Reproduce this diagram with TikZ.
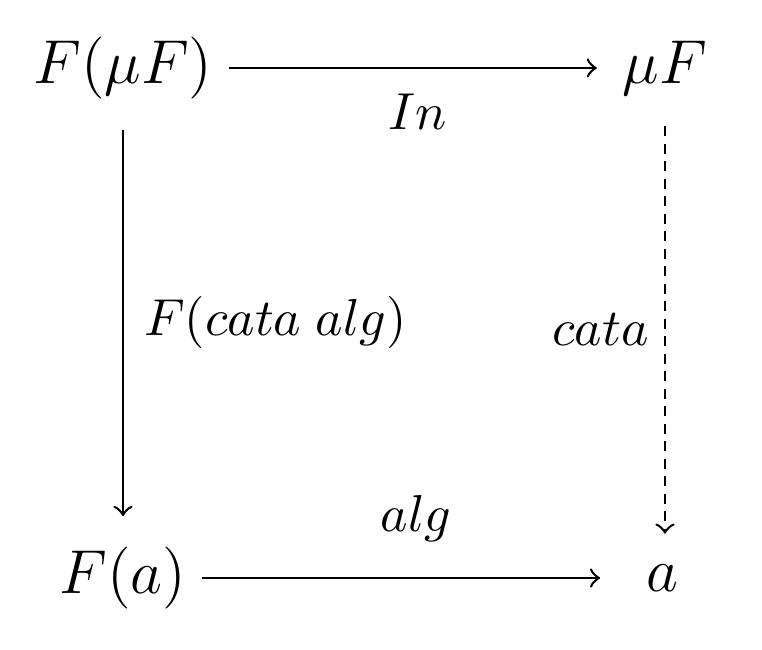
\documentclass[tikz,border=0pt]{standalone}
\usepackage{fix-cm}
\begin{document}
\fontsize{12.4}{15}\selectfont
\begin{tikzpicture}[x=0.2pt,y=-0.2pt,
  obj/.style={inner sep=3pt},
  lbl/.style={inner sep=1pt,font=\fontsize{10.4}{12}\selectfont},
  arr/.style={->,line width=0.5pt}]
\useasboundingbox (0,0) rectangle (762,650);
\node[obj] (fmu) at (123,68) {$F(\mu F)$};
\node[obj] (mu) at (665,68) {$\mu F$};
\node[obj] (fa) at (123,578) {$F(a)$};
\node[obj] (a) at (662,578) {$a$};
\draw[arr,shorten >=2pt] (fmu) -- (mu) node[lbl,midway,below=4pt] {$In$};
\draw[arr,shorten <=3pt,shorten >=3pt] (fmu) -- (fa) node[lbl,midway,right=3pt] {$F(cata\;alg)$};
\draw[arr,dash pattern=on 2pt off 1.5pt,shorten <=3pt,shorten >=3pt] (mu) -- (mu |- a.north) node[lbl,midway,left=2pt] {$cata$};
\draw[arr,shorten >=6pt] (fa) -- (a) node[lbl,midway,above=6pt] {$alg$};
\end{tikzpicture}
\end{document}
